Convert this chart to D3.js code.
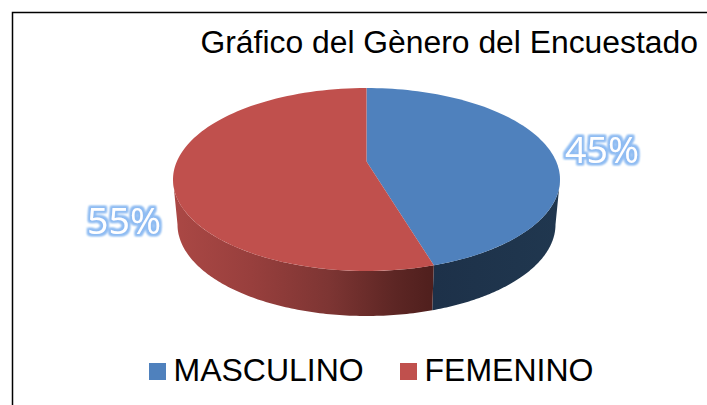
<!DOCTYPE html>
<html><head><meta charset="utf-8">
<script src="https://cdn.jsdelivr.net/npm/d3@7/dist/d3.min.js"></script>
<style>html,body{margin:0;padding:0;background:#fff;overflow:hidden}svg{display:block}</style>
</head><body><svg id="c" width="707" height="405"></svg>
<script>
const categories = ["MASCULINO", "FEMENINO"];
const values = [45, 55];
const labels = ["45%", "55%"];
const colors = ["#4f81bd", "#c0504d"];
const titleText = "Gráfico del Gènero del Encuestado";

const svg = d3.select("#c");
const defs = svg.append("defs");

const W = 707, H = 405;
// Plot geometry
const cx = 366.5, rx = 193.5, topY = 88, ry = 91.5, depth = 45, apexY = 161.5, rxBottom = 189;
const cy = topY + ry;
// Scales mapping the unit circle to the top and bottom ellipses
const sx = d3.scaleLinear().domain([-1, 1]).range([cx - rx, cx + rx]);
const sxB = d3.scaleLinear().domain([-1, 1]).range([cx - rxBottom, cx + rxBottom]);
const sy = d3.scaleLinear().domain([-1, 1]).range([cy - ry, cy + ry]);

const pie = d3.pie().sort(null).value(d => d);
const arcs = pie(values);
// perspective skew of the angle
const warp = a => a + 0.07 * Math.sin(2 * a);
const ptAt = a => [sx(Math.sin(warp(a))), sy(-Math.cos(warp(a)))];
const ptBottom = a => [sxB(Math.sin(warp(a))), sy(-Math.cos(warp(a))) + depth];
const line = d3.line();
const samples = (a0, a1, n = 120) => d3.range(n + 1).map(i => a0 + (a1 - a0) * i / n);

// gradients
const boundaryX = ptAt(arcs[0].endAngle)[0];
const g1 = defs.append("linearGradient").attr("id", "sideRed").attr("gradientUnits", "userSpaceOnUse")
  .attr("x1", cx - rx).attr("x2", boundaryX).attr("y1", 0).attr("y2", 0);
[[0, "#ab4845"], [0.3, "#983f3d"], [0.6, "#7d3533"], [0.85, "#5d2624"], [1, "#4f1f1d"]]
  .forEach(s => g1.append("stop").attr("offset", s[0]).attr("stop-color", s[1]));
const g2 = defs.append("linearGradient").attr("id", "sideBlue").attr("gradientUnits", "userSpaceOnUse")
  .attr("x1", boundaryX).attr("x2", cx + rx).attr("y1", 0).attr("y2", 0);
[[0, "#1d3149"], [1, "#20374f"]].forEach(s => g2.append("stop").attr("offset", s[0]).attr("stop-color", s[1]));

// glow
const f = defs.append("filter").attr("id", "glow").attr("x", "-20%").attr("y", "-30%").attr("width", "140%").attr("height", "160%");
f.append("feMorphology").attr("in", "SourceAlpha").attr("operator", "dilate").attr("radius", 1.7).attr("result", "d");
f.append("feGaussianBlur").attr("in", "d").attr("stdDeviation", 0.9).attr("result", "b");
f.append("feFlood").attr("flood-color", "#8fbcf2").attr("result", "c");
f.append("feComposite").attr("in", "c").attr("in2", "b").attr("operator", "in").attr("result", "g");
const m = f.append("feMerge");
m.append("feMergeNode").attr("in", "g");
m.append("feMergeNode").attr("in", "g");
m.append("feMergeNode").attr("in", "SourceGraphic");

// frame
svg.append("path").attr("d", `M${W},12.5H12.5V${H}`).attr("fill", "none").attr("stroke", "#000").attr("stroke-width", 1.5);

// sides: visible rim (front half of the ellipse)
arcs.forEach((d, i) => {
  const a0 = Math.max(d.startAngle, Math.PI / 2);
  const a1 = Math.min(d.endAngle, Math.PI * 1.5);
  if (a1 <= a0) return;
  const top = samples(a0, a1).map(ptAt);
  const bot = samples(a0, a1).map(ptBottom).reverse();
  svg.append("path").attr("d", line(top.concat(bot)) + "Z")
    .attr("fill", i === 0 ? "url(#sideBlue)" : "url(#sideRed)");
});

// top faces
arcs.forEach((d, i) => {
  const pts = [[cx, apexY]].concat(samples(d.startAngle, d.endAngle).map(ptAt));
  svg.append("path").attr("d", line(pts) + "Z").attr("fill", colors[i]);
});

// title
svg.append("text").attr("x", 200.5).attr("y", 53).attr("font-family", "Liberation Sans").attr("font-size", 31.85).attr("fill", "#000").text(titleText);

// data labels
const labelPos = [[565, 163], [87, 234]];
labels.forEach((t, i) => {
  svg.append("text").attr("x", labelPos[i][0]).attr("y", labelPos[i][1])
    .attr("font-family", "Open Sans").attr("font-size", 37).attr("fill", "#fff")
    .attr("textLength", 74).attr("lengthAdjust", "spacingAndGlyphs")
    .attr("filter", "url(#glow)").text(t);
});

// legend
const legendX = [149, 400], textX = [173.5, 424.5];
categories.forEach((c, i) => {
  svg.append("rect").attr("x", legendX[i]).attr("y", 363).attr("width", 17).attr("height", 17).attr("fill", colors[i]);
  svg.append("text").attr("x", textX[i]).attr("y", 381).attr("font-family", "Liberation Sans").attr("font-size", 32).attr("fill", "#000").text(c);
});
</script></body></html>
